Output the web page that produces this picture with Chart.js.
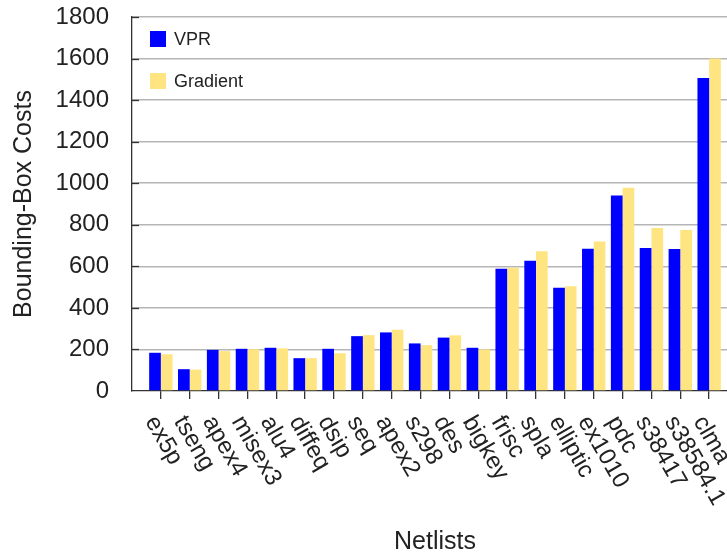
<!DOCTYPE html>
<html>
<head>
<meta charset="utf-8">
<script src="https://cdn.jsdelivr.net/npm/chart.js"></script>
<style>
  html, body { margin: 0; padding: 0; background: #fff; }
  #wrap { width: 727px; height: 557px; overflow: hidden; }
</style>
</head>
<body>
<div id="wrap"><canvas id="costChart" width="738" height="557"></canvas></div>
<script>
const netlists = ["ex5p", "tseng", "apex4", "misex3", "alu4", "diffeq", "dsip", "seq", "apex2", "s298",
    "des", "bigkey", "frisc", "spla", "elliptic", "ex1010", "pdc", "s38417", "s38584.1", "clma"];
const vprCosts = [184, 105, 198, 203, 208, 158, 203, 264, 282, 229,
    257, 208, 588, 627, 497, 685, 941, 688, 683, 1506];
const gradientCosts = [177, 103, 192, 201, 205, 158, 182, 269, 295, 221,
    268, 200, 593, 672, 504, 720, 978, 785, 775, 1600];
const yTicks = [0, 200, 400, 600, 800, 1000, 1200, 1400, 1600, 1800];

const FONT = "'Liberation Sans', Arial, sans-serif";
const INK = "#222";

// x labels start under the tick and run down to the right
const slantedLabels = {
    id: "slantedLabels",
    afterDraw(chart) {
        const xs = chart.scales.x;
        const ctx = chart.ctx;
        ctx.save();
        ctx.font = "24px " + FONT;
        ctx.fillStyle = INK;
        ctx.textAlign = "left";
        ctx.textBaseline = "top";
        netlists.forEach((name, i) => {
            ctx.save();
            ctx.translate(xs.getPixelForValue(i), xs.top + 21);
            ctx.rotate(Math.PI / 3);
            ctx.fillText(name, 0, 0);
            ctx.restore();
        });
        ctx.restore();
    }
};

// short tick marks pointing into the plot on the y axis
const innerTicks = {
    id: "innerTicks",
    afterDatasetsDraw(chart) {
        const ys = chart.scales.y;
        const left = chart.chartArea.left;
        const ctx = chart.ctx;
        ctx.save();
        ctx.strokeStyle = "#333";
        ctx.lineWidth = 1.3;
        ys.ticks.forEach(t => {
            if (t.value === 0) return;
            const y = Math.round(ys.getPixelForValue(t.value)) + 0.5;
            ctx.beginPath();
            ctx.moveTo(left, y);
            ctx.lineTo(left + 7, y);
            ctx.stroke();
        });
        ctx.restore();
    }
};

// legend box sits in the upper left corner of the plot, no frame
const cornerLegend = {
    id: "cornerLegend",
    afterDraw(chart) {
        const ctx = chart.ctx;
        const area = chart.chartArea;
        ctx.save();
        ctx.font = "18px " + FONT;
        ctx.textBaseline = "middle";
        ctx.textAlign = "left";
        chart.data.datasets.forEach((ds, i) => {
            const top = area.top + 14 + i * 42;
            ctx.fillStyle = ds.backgroundColor;
            ctx.fillRect(area.left + 18, top, 16, 16);
            ctx.fillStyle = INK;
            ctx.fillText(ds.label, area.left + 42, top + 9);
        });
        ctx.restore();
    }
};

const ctx = document.getElementById("costChart").getContext("2d");

new Chart(ctx, {
    type: "bar",
    data: {
        datasets: [{
            label: "VPR",
            data: vprCosts.map((v, i) => ({ x: i, y: v })),
            backgroundColor: "#0000ff"
        }, {
            label: "Gradient",
            data: gradientCosts.map((v, i) => ({ x: i, y: v })),
            backgroundColor: "#ffe582"
        }]
    },
    options: {
        responsive: false,
        animation: false,
        layout: { padding: { top: 17, left: 0, right: 0, bottom: 0 } },
        datasets: {
            bar: { categoryPercentage: 0.81, barPercentage: 1.0 }
        },
        plugins: {
            legend: { display: false },
            tooltip: { enabled: false }
        },
        scales: {
            x: {
                type: "linear",
                offset: false,
                min: -1,
                max: netlists.length,
                afterBuildTicks(scale) {
                    scale.ticks = netlists.map((_, i) => ({ value: i }));
                },
                afterFit(scale) { scale.height = 166; },
                ticks: { display: false },
                grid: {
                    offset: false,
                    drawOnChartArea: false,
                    drawTicks: true,
                    tickLength: 8,
                    color: "#333",
                    lineWidth: 1.3
                },
                border: { display: true, color: "#333", width: 1.3 },
                title: {
                    display: true,
                    text: "Netlists",
                    color: INK,
                    font: { family: FONT, size: 25 },
                    padding: { top: 0, bottom: 0 }
                }
            },
            y: {
                min: 0,
                max: 1800,
                afterBuildTicks(scale) {
                    scale.ticks = yTicks.map(v => ({ value: v }));
                },
                afterFit(scale) {
                    scale.width = 132;
                    scale.paddingTop = 0;
                    scale.paddingBottom = 0;
                },
                ticks: {
                    color: INK,
                    padding: 23,
                    font: { family: FONT, size: 24 },
                    callback: v => String(v)
                },
                grid: {
                    drawTicks: false,
                    color: c => c.tick && c.tick.value === 0 ? "rgba(0,0,0,0)" : "#b5b5b5",
                    lineWidth: 1.5
                },
                border: { display: true, color: "#333", width: 1.3 },
                title: {
                    display: true,
                    text: "Bounding-Box Costs",
                    color: INK,
                    font: { family: FONT, size: 25 },
                    padding: { top: 9, bottom: 0 }
                }
            }
        }
    },
    plugins: [slantedLabels, innerTicks, cornerLegend]
});
</script>
</body>
</html>
